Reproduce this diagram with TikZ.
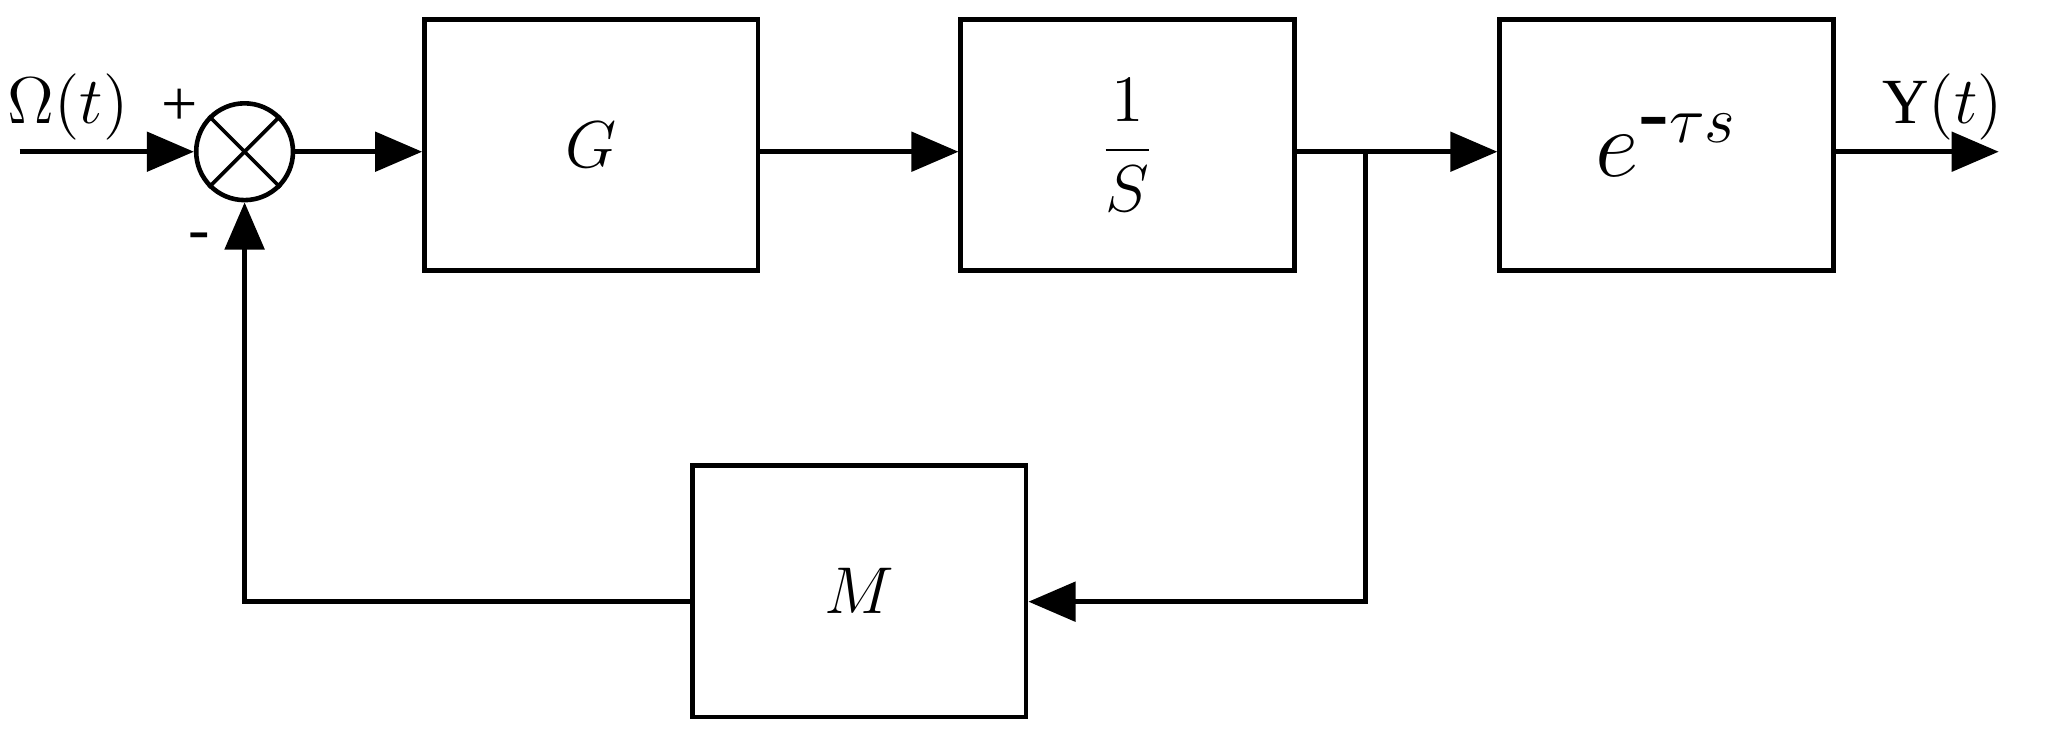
\documentclass[tikz,border=0pt]{standalone}
\usepackage{fontspec}
\setmainfont{Liberation Serif}
\usetikzlibrary{arrows.meta}

\tikzset{
    block/.style={draw, rectangle, line width=1pt, minimum width=2.55cm, minimum height=1.92cm, font=\fontsize{14}{16}\selectfont},
    sig/.style={line width=1pt, -{Triangle[length=0.36cm, width=0.3cm]}},
    lbl/.style={font=\fontsize{14}{16}\selectfont}
}

\begin{document}
\begin{tikzpicture}
    \useasboundingbox (0,0) rectangle (15.68,5.72);

    % Input and summing junction
    \coordinate (in) at (0.15,4.56);
    \node[draw, circle, line width=1pt, minimum size=0.74cm, inner sep=0pt] (sum) at (1.87,4.56) {};
    \draw[line width=0.8pt] (sum.45) -- (sum.225) (sum.135) -- (sum.315);

    % Forward blocks
    \node[block] (g) at (4.52,4.61) {$G$};
    \node[block] (integ) at (8.62,4.61) {$\displaystyle\frac{1}{S}$};
    \node[block, font=\fontsize{20}{22}\selectfont] (delay) at (12.74,4.61) {$e^{\mbox{-}\tau s}$};
    \coordinate (out) at (15.28,4.56);

    % Feedback block
    \node[block] (m) at (6.57,1.20) {$M$};
    \coordinate (branch) at (10.44,4.56);

    % Labels
    \node[lbl] (omega) at (0.52,4.90) {$\Omega(t)$};
    \node[lbl] (plus) at (1.37,4.90) {+};
    \node[lbl] (minus) at (1.52,3.87) {-};
    \node[lbl] (y) at (14.85,4.90) {Y$(t)$};

    % Connections
    \draw[sig] (in) -- (sum.west);
    \draw[sig] (sum.east) -- (g.west |- sum.east);
    \draw[sig] (g.east |- sum.east) -- (integ.west |- sum.east);
    \draw[sig] (integ.east |- sum.east) -- (delay.west |- sum.east);
    \draw[sig] (delay.east |- out) -- (out);
    \draw[sig] (branch) |- (m.east |- 0,1.12);
    \draw[sig] (m.west |- 0,1.12) -| (sum.south);
\end{tikzpicture}
\end{document}
